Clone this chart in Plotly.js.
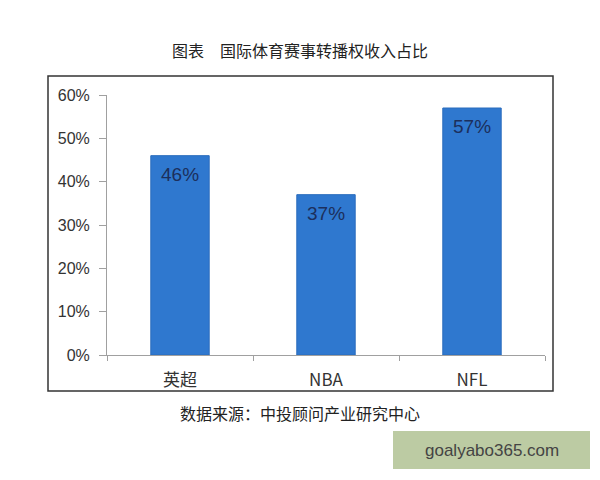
<!DOCTYPE html>
<html>
<head>
<meta charset="utf-8">
<script src="https://cdn.plot.ly/plotly-3.0.1.min.js"></script>
<style>
  html, body { margin: 0; padding: 0; background: #fff; }
  #chart { width: 600px; height: 480px; }
</style>
</head>
<body>
<div id="chart"></div>
<script>
var categories = ['英超', 'NBA', 'NFL'];
var shares = [0.46, 0.37, 0.57];
var shareLabels = ['46%', '37%', '57%'];

var chartTitle = '图表　国际体育赛事转播权收入占比';
var sourceNote = '数据来源：中投顾问产业研究中心';
var watermark = 'goalyabo365.com';

var FONT = '"Liberation Sans", Arial, "Noto Sans CJK SC", sans-serif';
var CJK = '"Noto Sans CJK SC", "Liberation Sans", sans-serif';

// plot area in pixels: x 107..545, y 95..355
function px(x) { return (x - 107) / 438; }
function py(y) { return (355 - y) / 260; }

var data = [{
  type: 'bar',
  x: categories,
  y: shares,
  marker: {color: '#2f78cf', line: {color: '#2a6cbd', width: 1}},
  hoverinfo: 'none'
}];

// value labels sit inside the top of each bar
var valueNotes = categories.map(function (c, i) {
  return {
    text: shareLabels[i], x: c, y: shares[i], xref: 'x', yref: 'y',
    showarrow: false, xanchor: 'center', yanchor: 'top', yshift: -6,
    font: {family: FONT, size: 19, color: '#1c2f5c'}
  };
});

var layout = {
  width: 600,
  height: 480,
  margin: {l: 107, r: 55, t: 95, b: 125},
  paper_bgcolor: '#fff',
  plot_bgcolor: '#fff',
  bargap: 0.6,
  showlegend: false,
  font: {family: FONT, color: '#333'},
  xaxis: {
    range: [-0.5, 2.5],
    showline: true,
    linecolor: '#a0a0a0',
    linewidth: 1,
    ticks: 'outside',
    tickson: 'boundaries',
    ticklen: 5,
    tickcolor: '#a0a0a0',
    showgrid: false,
    ticklabelstandoff: 10,
    tickfont: {family: CJK, size: 17, color: '#333'},
    fixedrange: true
  },
  yaxis: {
    range: [0, 0.6],
    dtick: 0.1,
    tickformat: '.0%',
    showline: true,
    linecolor: '#a0a0a0',
    linewidth: 1,
    ticks: 'outside',
    ticklen: 7,
    tickcolor: '#a0a0a0',
    showgrid: false,
    zeroline: false,
    ticklabelstandoff: 6,
    tickfont: {family: FONT, size: 16, color: '#333'},
    fixedrange: true
  },
  shapes: [
    {type: 'rect', xref: 'paper', yref: 'paper',
     x0: px(48), x1: px(553), y0: py(391), y1: py(76),
     line: {color: '#333', width: 1.5}, fillcolor: 'rgba(0,0,0,0)', layer: 'below'},
    {type: 'rect', xref: 'paper', yref: 'paper',
     x0: px(393), x1: px(590), y0: py(469), y1: py(431),
     line: {width: 0}, fillcolor: '#bccba3'}
  ],
  annotations: valueNotes.concat([
    {text: chartTitle, xref: 'paper', yref: 'paper', x: px(300), y: py(50),
     showarrow: false, xanchor: 'center', yanchor: 'middle',
     font: {family: CJK, size: 16, color: '#222'}},
    {text: sourceNote, xref: 'paper', yref: 'paper', x: px(300), y: py(413),
     showarrow: false, xanchor: 'center', yanchor: 'middle',
     font: {family: CJK, size: 16, color: '#222'}},
    {text: watermark, xref: 'paper', yref: 'paper', x: px(492), y: py(450),
     showarrow: false, xanchor: 'center', yanchor: 'middle',
     font: {family: FONT, size: 17, color: '#444'}}
  ])
};

Plotly.newPlot('chart', data, layout, {displayModeBar: false, staticPlot: true});
</script>
</body>
</html>
